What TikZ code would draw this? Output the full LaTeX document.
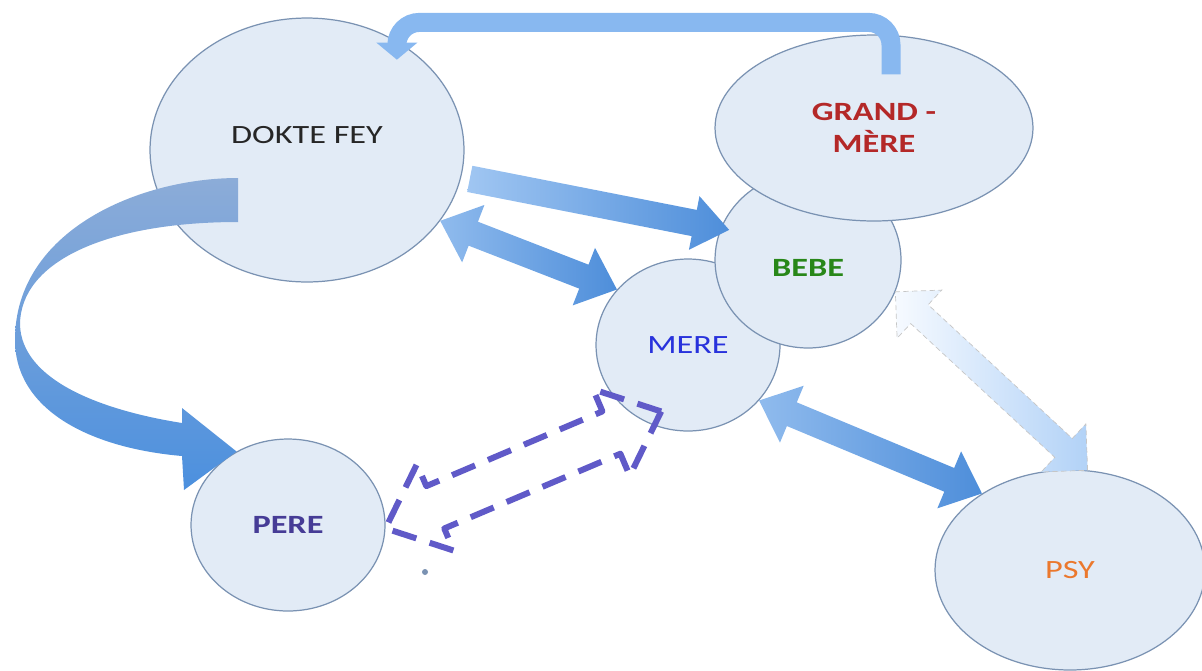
\documentclass[tikz,border=0pt]{standalone}
\usepackage{fontspec}
\newfontfamily\diagfont[FakeStretch=1.3]{Carlito}
\usepackage{xcolor}
\usepackage{tikz}
\usetikzlibrary{shapes.geometric, shapes.arrows, arrows.meta, calc}

\definecolor{bubblefill}{RGB}{226,235,246}
\definecolor{bubbleline}{RGB}{122,146,178}
\definecolor{arrowlight}{RGB}{160,198,242}
\definecolor{arrowdark}{RGB}{78,142,218}
\definecolor{fadelight}{RGB}{246,250,255}
\definecolor{fadedark}{RGB}{178,210,247}
\definecolor{dashpurple}{RGB}{96,90,200}
\definecolor{elbowblue}{RGB}{136,184,240}
\definecolor{ribbontop}{RGB}{140,172,216}
\definecolor{ribbonbottom}{RGB}{76,144,222}
\definecolor{gmred}{RGB}{180,40,40}
\definecolor{bebegreen}{RGB}{40,135,25}
\definecolor{mereblue}{RGB}{40,50,220}
\definecolor{perepurple}{RGB}{70,60,150}
\definecolor{psyorange}{RGB}{235,120,45}

% block arrow between two points
\newcommand{\blockarrow}[3]{%
  \path let \p1=(#2), \p2=(#3), \n1={atan2(\y2-\y1,\x2-\x1)}, \n2={veclen(\x2-\x1,\y2-\y1)}
    in node[#1, rotate=\n1, minimum height=\n2] at ($(\p1)!0.5!(\p2)$) {};}

\begin{document}
\begin{tikzpicture}[x=0.02cm, y=-0.02cm,
    bubble/.style={draw=bubbleline, line width=0.7pt, fill=bubblefill, ellipse, inner sep=0pt, align=center,
      font=\diagfont\fontsize{15}{18}\selectfont},
    boldtext/.style={font=\diagfont\bfseries\fontsize{15}{18}\selectfont},
    onearrow/.style={single arrow, inner sep=0pt, inner ysep=0.26cm, single arrow head extend=0.28cm,
      single arrow tip angle=75, left color=arrowlight, right color=arrowdark},
    twoarrow/.style={double arrow, inner sep=0pt, inner ysep=0.25cm, double arrow head extend=0.36cm,
      double arrow tip angle=82, left color=arrowlight!80!arrowdark, right color=arrowdark},
    fadearrow/.style={double arrow, inner sep=0pt, inner ysep=0.25cm, double arrow head extend=0.4cm,
      double arrow tip angle=90, left color=fadelight, right color=fadedark, draw=gray!45, densely dashed, line width=0.4pt},
    dasharrow/.style={double arrow, inner sep=0pt, inner ysep=0.4cm, double arrow head extend=0.48cm,
      double arrow tip angle=82, draw=dashpurple, line width=0.12cm, line join=round, dash pattern=on 0.5cm off 0.28cm}]

    \useasboundingbox (0,0) rectangle (1202,670);

    % the people
    \node[bubble, minimum width=6.28cm, minimum height=5.28cm, text=black!85, text depth=0.6cm] (dokte) at (307,150) {DOKTE FEY};
    \node[bubble, minimum width=3.68cm, minimum height=3.44cm, text=mereblue] (mere) at (688,345) {MERE};
    \node[bubble, boldtext, minimum width=3.72cm, minimum height=3.52cm, text=bebegreen, text height=0.66cm] (bebe) at (808,260) {BEBE};
    \node[bubble, boldtext, minimum width=6.36cm, minimum height=3.72cm, text=gmred] (gm) at (874,128) {GRAND -\\MÈRE};
    \node[bubble, boldtext, minimum width=3.88cm, minimum height=3.44cm, text=perepurple] (pere) at (288,525) {PERE};
    \node[bubble, minimum width=5.4cm, minimum height=4cm, text=psyorange] (psy) at (1070,570) {PSY};

    \coordinate (meretip) at ($(mere.center)!0.82!(mere.248)$);

    % arrows between them
    \blockarrow{onearrow}{dokte.-10}{bebe.160}
    \blockarrow{twoarrow}{dokte.-28}{mere.142}
    \blockarrow{twoarrow}{mere.-38}{psy.139}
    \blockarrow{fadearrow}{bebe.-20}{psy.80}
    \blockarrow{dasharrow}{pere.-2}{meretip}

    \draw[elbowblue, line width=0.38cm, rounded corners=0.45cm, -{Triangle[width=0.8cm, length=0.34cm]}]
        ($(gm.north)+(17,40)$) -- ++(0,-52) -| ($(dokte.50)+(-1,18)$);

    \shade[top color=ribbontop, bottom color=ribbonbottom]
        (238,178) .. controls (140,178) and (15,230) .. (15,340)
        .. controls (15,410) and (90,448) .. (182,456) -- (184,490) -- (pere.125) -- (182,408) -- (182,423)
        .. controls (100,410) and (22,380) .. (20,325)
        .. controls (20,260) and (110,222) .. (238,222) -- cycle;

    \fill[bubbleline] (425,572) circle (3);
\end{tikzpicture}
\end{document}
